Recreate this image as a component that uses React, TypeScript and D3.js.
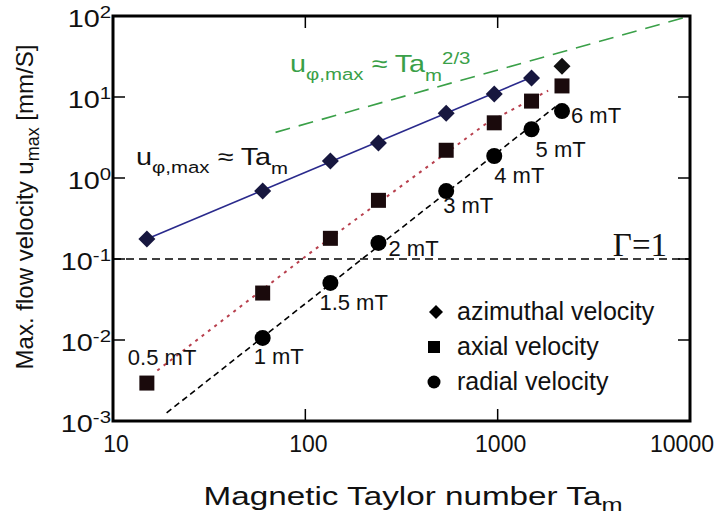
import React from 'react';
import * as d3 from 'd3';

// ---- data ----
const taylorNumbers = [15, 60, 135, 240, 540, 960, 1500, 2160];
const azimuthalVelocity = [0.177, 0.69, 1.62, 2.7, 6.3, 10.9, 17.2, 24];
const axialVelocity = [0.00294, 0.038, 0.18, 0.53, 2.2, 4.8, 8.9, 13.7];
const radialTaylor = [60, 135, 240, 540, 960, 1500, 2160];
const radialVelocity = [0.0106, 0.0506, 0.158, 0.69, 1.87, 4.0, 6.7];
const fieldLabels = ['0.5 mT', '1 mT', '1.5 mT', '2 mT', '3 mT', '4 mT', '5 mT', '6 mT'];

const azimuthalFit: [number, number][] = [[15, 0.177], [1500, 17.5]];
const axialFit: [number, number][] = [[17, 0.0042], [106, 0.119], [881, 4.78], [1830, 12]];
const radialFit: [number, number][] = [[19, 0.00126], [2000, 7.6]];
const scalingLaw: [number, number][] = [[70, 3.66], [10000, 100]];
const gammaLevel = 0.1;

const xTicks = [10, 100, 1000, 10000];
const yExponents = [2, 1, 0, -1, -2, -3];
const legendItems = ['azimuthal velocity', 'axial velocity', 'radial velocity'];

// ---- layout / style ----
const W = 717, H = 515;
const L = 113, R = 690, T = 16, B = 421;
const FONT = 'Liberation Sans, Arial, Helvetica, sans-serif';
const labelOffsets: [number, number][] = [[-19, -18], [-9, 26], [-11, 27], [10, 13], [-3, 22], [0, 27], [4, 28], [9, 12]];

const diamond = (r: number) => `M0,${-r}L${r},0L0,${r}L${-r},0Z`;

export default function App() {
  const x = d3.scaleLog().domain([10, 10000]).range([L, R]);
  const y = d3.scaleLog().domain([0.001, 100]).range([B, T]);
  const line = d3.line<[number, number]>().x(d => x(d[0])).y(d => y(d[1]));

  const green = '#3aa048';
  const labelAnchors = fieldLabels.map((_, i) => {
    const ta = taylorNumbers[i];
    const ri = radialTaylor.indexOf(ta);
    const v = ri >= 0 ? radialVelocity[ri] : axialVelocity[i];
    return [x(ta) + labelOffsets[i][0], y(v) + labelOffsets[i][1]];
  });

  return (
    <svg width={W} height={H} style={{ position: 'absolute', left: 0, top: 0, background: '#fff' }} fontFamily={FONT}>
      <rect x={0} y={0} width={W} height={H} fill="#fff" />
      <defs>
        <clipPath id="plot"><rect x={L} y={T} width={R - L} height={B - T} /></clipPath>
      </defs>

      {/* reference lines */}
      <g clipPath="url(#plot)">
        <line x1={L} x2={R} y1={y(gammaLevel)} y2={y(gammaLevel)} stroke="#000" strokeWidth={1.6} strokeDasharray="8,5" />
        <path d={line(scalingLaw)!} fill="none" stroke={green} strokeWidth={1.6} strokeDasharray="15,9" />
        <path d={line(azimuthalFit)!} fill="none" stroke="#2a2a8c" strokeWidth={1.6} />
        <path d={line(axialFit)!} fill="none" stroke="#b8404e" strokeWidth={2} strokeDasharray="3,5" />
        <path d={line(radialFit)!} fill="none" stroke="#000" strokeWidth={1.6} strokeDasharray="6,4" />
      </g>

      {/* markers */}
      {taylorNumbers.map((t, i) => (
        <path key={'a' + i} d={diamond(8.5)} transform={`translate(${x(t)},${y(azimuthalVelocity[i])})`} fill={i < 7 ? '#17173f' : '#111'} />
      ))}
      {taylorNumbers.map((t, i) => (
        <rect key={'x' + i} x={x(t) - 7.5} y={y(axialVelocity[i]) - 7.5} width={15} height={15} fill="#1a0a0c" />
      ))}
      {radialTaylor.map((t, i) => (
        <circle key={'r' + i} cx={x(t)} cy={y(radialVelocity[i])} r={8} fill="#000" />
      ))}

      {/* field labels */}
      {fieldLabels.map((s, i) => (
        <text key={'f' + i} x={labelAnchors[i][0]} y={labelAnchors[i][1]} fontSize={22} fill="#111">{s}</text>
      ))}

      {/* annotations */}
      <g transform="translate(290,72) scale(1.2,1)">
        <text x={0} y={0} fontSize={24} fill={green}>
          u<tspan fontSize={17} dy={8}>φ,max</tspan><tspan dy={-8}> ≈ Ta</tspan><tspan fontSize={17} dy={9}>m</tspan><tspan fontSize={17} dy={-17}>2/3</tspan>
        </text>
      </g>
      <g transform="translate(136,165) scale(1.2,1)">
        <text x={0} y={0} fontSize={24} fill="#111">
          u<tspan fontSize={17} dy={8}>φ,max</tspan><tspan dy={-8}> ≈ Ta</tspan><tspan fontSize={17} dy={9}>m</tspan>
        </text>
      </g>
      <text x={667} y={256} fontSize={33} textAnchor="end" fontFamily="Liberation Serif, Times New Roman, serif" fill="#111">Γ=1</text>

      {/* legend */}
      {legendItems.map((s, i) => {
        const cy = 312 + i * 35;
        return (
          <g key={'l' + i}>
            {i === 0 && <path d={diamond(7)} transform={`translate(436,${cy})`} fill="#000" />}
            {i === 1 && <rect x={428} y={cy - 6} width={12} height={12} fill="#000" />}
            {i === 2 && <circle cx={434} cy={cy} r={6.5} fill="#000" />}
            <text x={457} y={cy + 8} fontSize={25} fill="#111">{s}</text>
          </g>
        );
      })}

      {/* frame */}
      <rect x={L} y={T} width={R - L} height={B - T} fill="none" stroke="#000" strokeWidth={3} />

      {/* ticks */}
      {xTicks.slice(1, -1).map(t => (
        <g key={'xt' + t}>
          <line x1={x(t)} x2={x(t)} y1={B} y2={B - 12} stroke="#000" strokeWidth={1.5} />
          <line x1={x(t)} x2={x(t)} y1={T} y2={T + 12} stroke="#000" strokeWidth={1.5} />
        </g>
      ))}
      {yExponents.slice(1, -1).map(e => (
        <g key={'yt' + e}>
          <line x1={L} x2={L + 12} y1={y(Math.pow(10, e))} y2={y(Math.pow(10, e))} stroke="#000" strokeWidth={1.5} />
          <line x1={R} x2={R - 12} y1={y(Math.pow(10, e))} y2={y(Math.pow(10, e))} stroke="#000" strokeWidth={1.5} />
        </g>
      ))}

      {/* tick labels */}
      {xTicks.map(t => (
        <text key={'xl' + t} x={x(t) + (t === 10000 ? -8 : 3)} y={452} fontSize={23} textAnchor="middle" fill="#111">{t}</text>
      ))}
      {yExponents.map(e => (
        <g key={'yl' + e} transform={`translate(111,${y(Math.pow(10, e)) + 11}) scale(1.2,1)`}>
          <text x={0} y={0} fontSize={24} textAnchor="end" fill="#111">
            10<tspan fontSize={17} dy={-9}>{e}</tspan>
          </text>
        </g>
      ))}

      {/* axis titles */}
      <g transform="translate(413,505) scale(1.33,1)">
        <text x={0} y={0} fontSize={25} textAnchor="middle" fill="#111">
          Magnetic Taylor number Ta<tspan fontSize={19} dy={6}>m</tspan>
        </text>
      </g>
      <text transform="translate(33,207) rotate(-90)" fontSize={24} textAnchor="middle" fill="#111">
        Max. flow velocity u<tspan fontSize={18} dy={6}>max</tspan><tspan dy={-6}> [mm/S]</tspan>
      </text>
    </svg>
  );
}
